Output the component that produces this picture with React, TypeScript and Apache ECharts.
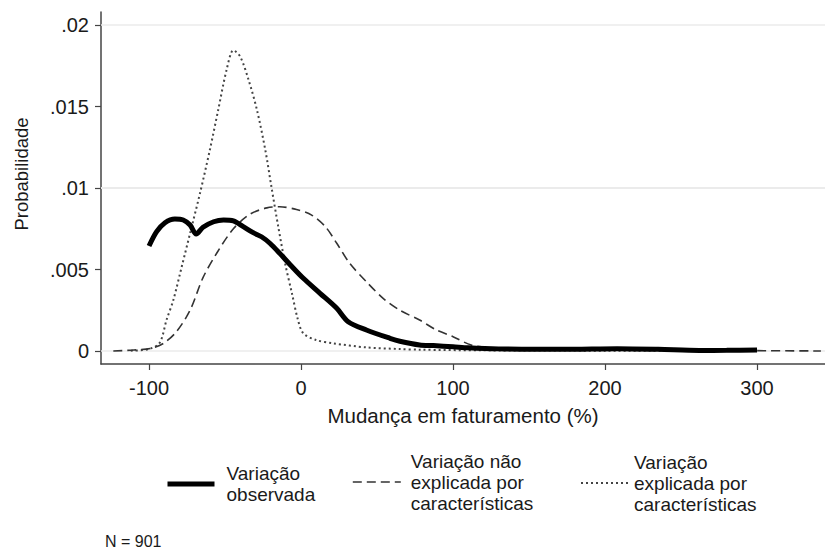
import React, { useEffect, useRef } from "react";
import * as echarts from "echarts";

// Observed change (solid)
const obsX = [-100, -95, -89.5, -83, -77.5, -73, -69, -64.5, -57.5, -51, -44.5, -38, -31.5, -26, -20.5, -14, -7, 1.5, 12.5, 23.5, 31, 43, 58.5, 65, 78, 87, 100, 110, 130, 153, 180, 208, 235, 262, 280, 300];
const obsY = [0.00644, 0.00732, 0.00787, 0.0081, 0.00804, 0.00773, 0.00718, 0.00759, 0.00793, 0.00804, 0.00798, 0.00763, 0.00726, 0.00701, 0.00661, 0.00599, 0.00528, 0.00446, 0.00354, 0.00262, 0.0018, 0.00129, 0.00078, 0.0006, 0.00037, 0.00033, 0.00026, 0.0002, 0.00013, 0.0001, 0.00011, 0.00014, 0.0001, 0.00003, 0.00004, 0.00006];

// Unexplained change (dashed)
const unexpX = [-123.5, -110, -99, -90.5, -82, -73, -64.5, -55.5, -44.5, -33.5, -22.5, -14, -3, 7, 16, 23.5, 32, 43, 54, 65, 78, 89, 100, 112, 131, 160, 200, 250, 300, 342];
const unexpY = [0, 0.00006, 0.00016, 0.00047, 0.00118, 0.0025, 0.0045, 0.006, 0.0075, 0.0084, 0.00878, 0.00885, 0.00868, 0.00834, 0.00763, 0.00661, 0.00538, 0.00425, 0.00323, 0.0025, 0.0019, 0.00129, 0.00088, 0.00037, 0.00016, 0.00008, 0.00005, 0.00003, 0.00002, 0];

// Explained change (dotted)
const explX = [-112, -100, -93, -88.5, -84, -78.5, -73, -66.5, -60, -54.5, -49, -44.5, -40, -34.5, -29, -23.5, -19.5, -15, -10.5, -6, -2, 1.5, 10, 21, 43, 65, 78, 120, 200, 300];
const explY = [0.00002, 0.00012, 0.0005, 0.0019, 0.00313, 0.00517, 0.00722, 0.00967, 0.01233, 0.01479, 0.01724, 0.01845, 0.01806, 0.01663, 0.01479, 0.01233, 0.01008, 0.00763, 0.00538, 0.00354, 0.0019, 0.00108, 0.00067, 0.00047, 0.00022, 0.00012, 0.00008, 0.00004, 0.00002, 0.00001];

const xTicks = [-100, 0, 100, 200, 300];
const yTicks = [0, 0.005, 0.01, 0.015, 0.02];
const yTickLabels = ["0", ".005", ".01", ".015", ".02"];

const seriesNames = [
  "Variação observada",
  "Variação não explicada por características",
  "Variação explicada por características",
];
const legendLabels = [
  "Variação\nobservada",
  "Variação não\nexplicada por\ncaracterísticas",
  "Variação\nexplicada por\ncaracterísticas",
];
const xTitle = "Mudança em faturamento (%)";
const yTitle = "Probabilidade";
const note = "N = 901";

const FONT = "'Liberation Sans', Arial, Helvetica, sans-serif";
const TEXT = "#1a1a1a";
const LEGEND_LH = 21;

const zip = (xs: number[], ys: number[]) => xs.map((x, i) => [x, ys[i]]);

export default function App() {
  const ref = useRef<HTMLDivElement>(null);

  useEffect(() => {
    if (!ref.current) return;
    const chart = echarts.init(ref.current, undefined, { renderer: "svg" });

    const legendBase = (i: number, left: number, cy: number, w: number, lw: number, gap: number) => {
      const lines = legendLabels[i].split("\n").length;
      return {
        data: [seriesNames[i]],
        left,
        top: cy - (lines * LEGEND_LH) / 2,
        padding: 0,
        itemWidth: w,
        itemHeight: 14,
        selectedMode: false,
        formatter: () => legendLabels[i],
        lineStyle: { width: lw },
        itemStyle: { opacity: 0, borderWidth: 0 },
        textStyle: {
          fontFamily: FONT,
          fontSize: 19,
          lineHeight: LEGEND_LH,
          color: TEXT,
          padding: [0, 0, 0, gap],
        },
      };
    };

    chart.setOption({
      animation: false,
      backgroundColor: "#ffffff",
      grid: { left: 101, right: 0, top: 12, bottom: 186, containLabel: false },
      xAxis: {
        type: "value",
        min: -131.6,
        max: 344.7,
        name: xTitle,
        nameLocation: "middle",
        nameGap: 41,
        nameTextStyle: { fontFamily: FONT, fontSize: 20.5, color: TEXT },
        axisLine: { show: true, onZero: false, lineStyle: { color: "#444", width: 1.5 } },
        axisTick: { show: true, length: 6, customValues: xTicks, lineStyle: { color: "#444", width: 1.2 } },
        axisLabel: {
          customValues: xTicks,
          margin: 14,
          fontFamily: FONT,
          fontSize: 20,
          color: TEXT,
          formatter: (v: number) => String(Math.round(v)),
        },
        splitLine: { show: false },
      },
      yAxis: {
        type: "value",
        min: -0.000798,
        max: 0.0208,
        axisLine: { show: true, onZero: false, lineStyle: { color: "#444", width: 1.5 } },
        axisTick: { show: true, length: 6, customValues: yTicks, lineStyle: { color: "#444", width: 1.2 } },
        axisLabel: {
          customValues: yTicks,
          margin: 12,
          fontFamily: FONT,
          fontSize: 20,
          color: TEXT,
          formatter: (v: number) => {
            const idx = yTicks.findIndex((t) => Math.abs(t - v) < 1e-9);
            return idx >= 0 ? yTickLabels[idx] : "";
          },
        },
        splitLine: { show: false },
      },
      legend: [
        legendBase(0, 165, 484, 47, 5, 7),
        legendBase(1, 352, 482, 48, 1.6, 5),
        legendBase(2, 580, 483, 48, 2, 0),
      ],
      series: [
        {
          name: seriesNames[2],
          type: "line",
          data: zip(explX, explY),
          symbol: "none",
          smooth: 0.3,
          color: "#444",
          lineStyle: { color: "#444", width: 2, type: [2, 3] },
          z: 3,
          markLine: {
            silent: true,
            z: 1,
            symbol: ["none", "none"],
            label: { show: false },
            emphasis: { disabled: true },
            lineStyle: { color: "#ebebeb", width: 1.5, type: "solid" },
            data: yTicks.map((v) => ({ yAxis: v })),
          },
        },
        {
          name: seriesNames[1],
          type: "line",
          data: zip(unexpX, unexpY),
          symbol: "none",
          smooth: 0.3,
          color: "#333",
          lineStyle: { color: "#333", width: 1.6, type: [9, 5] },
          z: 3,
        },
        {
          name: seriesNames[0],
          type: "line",
          data: zip(obsX, obsY),
          symbol: "none",
          smooth: 0.3,
          color: "#000",
          lineStyle: { color: "#000", width: 5 },
          z: 4,
        },
      ],
      graphic: [
        {
          type: "text",
          x: 21,
          y: 174,
          rotation: Math.PI / 2,
          style: {
            text: yTitle,
            fontFamily: FONT,
            fontSize: 18.5,
            fill: TEXT,
            align: "center",
            verticalAlign: "middle",
          },
        },
        {
          type: "text",
          x: 105,
          y: 541,
          style: {
            text: note,
            fontFamily: FONT,
            fontSize: 16,
            fill: TEXT,
            align: "left",
            verticalAlign: "middle",
          },
        },
      ],
    });

    return () => chart.dispose();
  }, []);

  return (
    <div
      ref={ref}
      style={{ position: "fixed", left: 0, top: 0, width: 825, height: 550, background: "#fff" }}
    />
  );
}
